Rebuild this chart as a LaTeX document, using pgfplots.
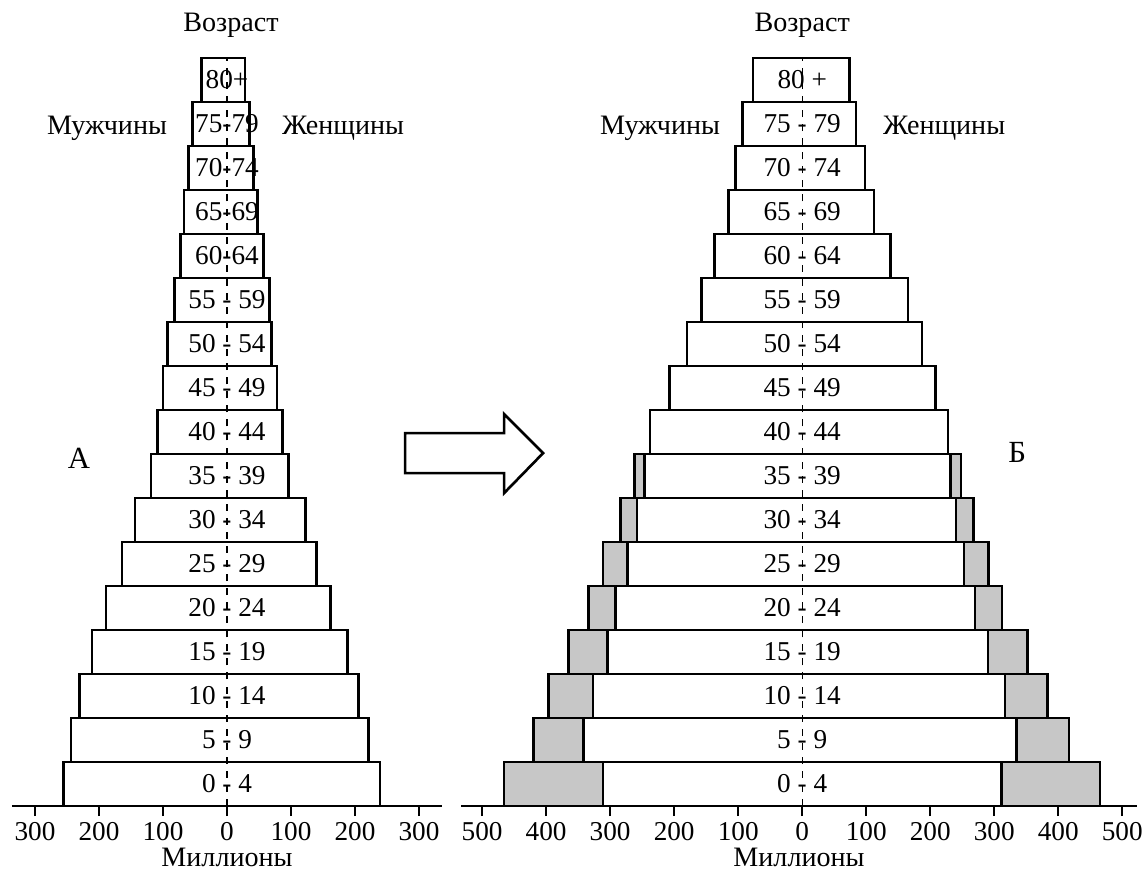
\documentclass[border=0pt]{standalone}
\usepackage{fontspec}
\setmainfont{Liberation Serif}
\usepackage{pgfplots}
\usepackage{pgfplotstable}
\pgfplotsset{compat=1.18}

% age groups 0-4 (bottom) ... 80+ (top), millions; m = men (left edge), f = women (right edge)
\pgfplotstableread{
age m f
0.5 -256 239
1.5 -244 221
2.5 -231 205
3.5 -211 188
4.5 -189 162
5.5 -164 140
6.5 -144 123
7.5 -119 96
8.5 -109 87
9.5 -100 78
10.5 -93 70
11.5 -82 66
12.5 -73 57
13.5 -67 48
14.5 -60 41
15.5 -54 35
16.5 -40 28
}\pyrA

% mo/fo = outer edges (shaded part included), mi/fi = inner white bar
\pgfplotstableread{
age mo mi fi fo
0.5 -466 -311 311 465
1.5 -420 -342 335 417
2.5 -396 -327 317 383
3.5 -365 -304 290 352
4.5 -334 -292 270 312
5.5 -311 -273 253 291
6.5 -284 -258 240 268
7.5 -262 -246 232 248
8.5 -238 -238 228 228
9.5 -207 -207 208 208
10.5 -180 -180 187 187
11.5 -157 -157 165 165
12.5 -137 -137 138 138
13.5 -115 -115 112 112
14.5 -104 -104 98 98
15.5 -93 -93 84 84
16.5 -77 -77 74 74
}\pyrB

\newcommand\lbl{\fontsize{15.5}{18}\selectfont}
\newcommand\ttl{\fontsize{16}{19}\selectfont}
\newcommand\letsz{\fontsize{17.5}{20}\selectfont}

\tikzset{mid/.style={dash pattern=on 4pt off 4pt, line width=0.6pt}}

\pgfplotsset{
  frame/.style={
    scale only axis,
    anchor=south west,
    height=14.96cm,
    ymin=0, ymax=17,
    clip=false,
  },
  pyr/.style={
    frame,
    axis y line=none,
    axis x line*=bottom,
    axis line style={line width=1.4pt},
    tick align=outside,
    major tick length=0.2cm,
    xtick style={black, line width=1.2pt},
    ticklabel style={font=\lbl},
    xlabel={Миллионы},
    xlabel style={font=\ttl, inner sep=1pt},
    xbar stacked,
    stack negative=on previous,
    reverse stacked plots=false,
    bar width=1,
  },
  % second axis on top: centre line and age labels
  over/.style={frame, hide axis},
  hidden/.style={draw=none, fill=none},
  box/.style={draw=black, line width=1.5pt, fill=white},
  shaded/.style={draw=black, line width=1.5pt, fill=black!22},
}

\begin{document}
\begin{tikzpicture}
\useasboundingbox (0,0) rectangle (22.96cm,17.48cm);

% A
\begin{axis}[pyr, at={(0.24cm,1.36cm)}, width=8.6cm,
  xmin=-336, xmax=336,
  xtick={-300,-200,...,300},
  xticklabels={300,200,100,0,100,200,300}]
\addplot[hidden] table[x=m, y=age] {\pyrA};
\addplot[box] table[x expr=\thisrow{f}-\thisrow{m}, y=age] {\pyrA};
\end{axis}
\begin{axis}[over, at={(0.24cm,1.36cm)}, width=8.6cm, xmin=-336, xmax=336]
\draw[mid] (axis cs:0,0) -- (axis cs:0,17);
\foreach \t [count=\i from 0] in {0 - 4,5 - 9,10 - 14,15 - 19,20 - 24,25 - 29,30 - 34,35 - 39,40 - 44,45 - 49,50 - 54,55 - 59,60-64,65-69,70-74,75-79,80+}{
  \edef\tmp{\noexpand\node[font=\noexpand\lbl] at (axis cs:0,\i.5) {\t};}
  \tmp
}
\end{axis}

% B
\begin{axis}[pyr, at={(9.22cm,1.36cm)}, width=13.52cm,
  xmin=-533, xmax=523,
  xtick={-500,-400,...,500},
  xticklabels={500,400,300,200,100,0,100,200,300,400,500}]
\addplot[hidden] table[x=mo, y=age] {\pyrB};
\addplot[shaded] table[x expr=\thisrow{fo}-\thisrow{mo}, y=age] {\pyrB};
\addplot[hidden] table[x expr=\thisrow{mi}-\thisrow{fo}, y=age] {\pyrB};
\addplot[box] table[x expr=\thisrow{fi}-\thisrow{mi}, y=age] {\pyrB};
\end{axis}
\begin{axis}[over, at={(9.22cm,1.36cm)}, width=13.52cm, xmin=-533, xmax=523]
\draw[mid] (axis cs:0,0) -- (axis cs:0,17);
\foreach \t [count=\i from 0] in {0 - 4,5 - 9,10 - 14,15 - 19,20 - 24,25 - 29,30 - 34,35 - 39,40 - 44,45 - 49,50 - 54,55 - 59,60 - 64,65 - 69,70 - 74,75 - 79,80 +}{
  \edef\tmp{\noexpand\node[font=\noexpand\lbl] at (axis cs:0,\i.5) {\t};}
  \tmp
}
\end{axis}

% free text and the arrow, in pixel units of the reference
\begin{scope}[x=0.02cm, y=-0.02cm, yshift=17.48cm, font=\ttl]
\node at (231,25) {Возраст};
\node at (107,128) {Мужчины};
\node at (343,128) {Женщины};
\node at (802,25) {Возраст};
\node at (660,128) {Мужчины};
\node at (944,128) {Женщины};
\node[font=\letsz] at (79,458) {А};
\node[font=\letsz] at (1017,452) {Б};
\draw[line width=1.5pt, line join=miter] (405,433) -- (504,433) -- (504,414) -- (543,453)
  -- (504,493) -- (504,473) -- (405,473) -- cycle;
\end{scope}
\end{tikzpicture}
\end{document}
